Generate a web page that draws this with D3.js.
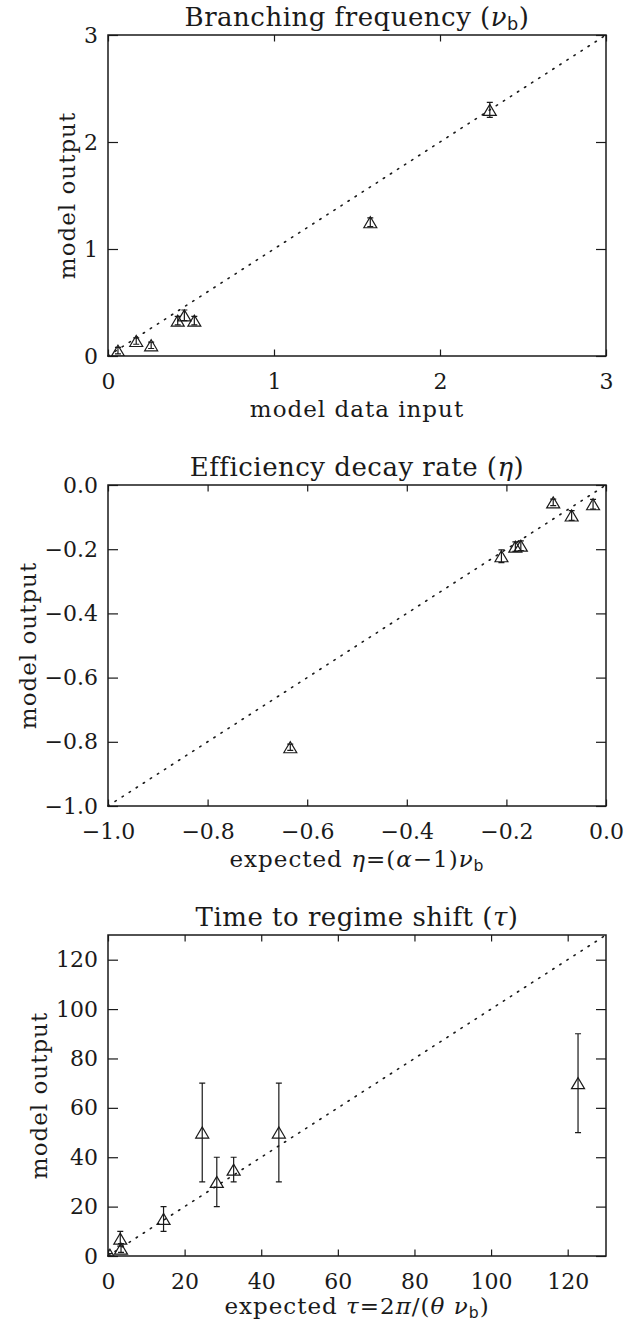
<!doctype html>
<meta charset=utf8>
<title>Model output vs expected</title>
<style>
  html, body {
    margin: 0;
    background: white;
  }

  svg {
    display: block;
    font-family: "DejaVu Serif", serif;
    color: #1a1a1a;
  }

  .tick text {
    font-size: 22px;
    fill: #1a1a1a;
  }

  .tick line {
    stroke: #1a1a1a;
    stroke-width: 1.2;
  }

  .frame {
    fill: none;
    stroke: #1a1a1a;
    stroke-width: 1.5;
  }

  .diag {
    fill: none;
    stroke: #1a1a1a;
    stroke-width: 1.6;
    stroke-dasharray: 1.4 7;
    stroke-linecap: round;
  }

  .mark, .err {
    fill: none;
    stroke: #1a1a1a;
    stroke-width: 1.2;
  }

  .title {
    font-size: 26px;
    letter-spacing: 0.5px;
    fill: #1a1a1a;
  }

  .label {
    font-size: 23px;
    letter-spacing: 1px;
    fill: #1a1a1a;
  }
</style>
<svg width=632 height=1322></svg>
<script src=https://d3js.org/d3.v7.min.js></script>
<script>
  // panel 1: branching frequency
  var branchX = [0.06, 0.17, 0.26, 0.42, 0.46, 0.52, 1.58, 2.30];
  var branchY = [0.05, 0.14, 0.10, 0.33, 0.38, 0.33, 1.25, 2.30];
  var branchErr = [0.03, 0.03, 0.03, 0.04, 0.05, 0.04, 0.04, 0.07];
  var branchTicks = [0, 1, 2, 3];

  // panel 2: efficiency decay rate
  var decayX = [-0.634, -0.21, -0.182, -0.171, -0.106, -0.069, -0.026];
  var decayY = [-0.817, -0.222, -0.192, -0.189, -0.054, -0.095, -0.060];
  var decayErr = [0.01, 0.02, 0.015, 0.015, 0.01, 0.015, 0.015];
  var decayTicks = [-1.0, -0.8, -0.6, -0.4, -0.2, 0.0];

  // panel 3: time to regime shift
  var shiftX = [0.5, 3.2, 3.4, 14.5, 24.6, 28.4, 32.8, 44.6, 122.7];
  var shiftY = [0.5, 7, 3, 15, 50, 30, 35, 50, 70];
  var shiftLo = [0, 4, 1.5, 10, 30, 20, 30, 30, 50];
  var shiftHi = [1, 10, 5, 20, 70, 40, 40, 70, 90];
  var shiftTicks = [0, 20, 40, 60, 80, 100, 120];

  var titles = ['Branching frequency ({ν}_b)', 'Efficiency decay rate ({η})', 'Time to regime shift ({τ})'];
  var xLabels = ['model data input', 'expected {η}=({α}−1){ν}_b', 'expected {τ}=2{π}/({θ} {ν}_b)'];
  var yLabel = 'model output';

  var panels = [
    {
      domain: [0, 3], ticks: branchTicks, fmt: d3.format('d'),
      pts: branchX.map(function (v, i) {
        return {x: v, y: branchY[i], lo: branchY[i] - branchErr[i], hi: branchY[i] + branchErr[i]};
      })
    },
    {
      domain: [-1, 0], ticks: decayTicks, fmt: d3.format('.1f'),
      pts: decayX.map(function (v, i) {
        return {x: v, y: decayY[i], lo: decayY[i] - decayErr[i], hi: decayY[i] + decayErr[i]};
      })
    },
    {
      domain: [0, 130], ticks: shiftTicks, fmt: d3.format('d'),
      pts: shiftX.map(function (v, i) {
        return {x: v, y: shiftY[i], lo: shiftLo[i], hi: shiftHi[i]};
      })
    }
  ];

  var svg = d3.select('svg');
  var left = 108, right = 606, plotH = 321, step = 450, firstTop = 35;

  // writes "{x}" as italic and "_b" as a sans subscript
  function richText(sel, str) {
    var afterSub = false;
    str.split(/(\{[^}]+\}|_\w)/).forEach(function (part) {
      if (!part) return;
      var t = sel.append('tspan');
      if (afterSub) t.attr('dy', -4);
      afterSub = false;
      if (part[0] === '{') {
        t.text(part.slice(1, -1)).style('font-style', 'italic');
      } else if (part[0] === '_') {
        t.text(part.slice(1)).attr('dy', 4)
          .style('font-family', '"DejaVu Sans", sans-serif')
          .style('font-size', '0.68em');
        afterSub = true;
      } else {
        t.text(part);
      }
    });
  }

  panels.forEach(function (p, k) {
    var top = firstTop + k * step;
    var bottom = top + plotH;
    var x = d3.scaleLinear().domain(p.domain).range([left, right]);
    var y = d3.scaleLinear().domain(p.domain).range([bottom, top]);
    var g = svg.append('g');

    g.append('clipPath').attr('id', 'clip' + k)
      .append('rect')
      .attr('x', left).attr('y', top)
      .attr('width', right - left).attr('height', plotH);

    g.append('g').attr('transform', 'translate(0,' + bottom + ')')
      .call(d3.axisBottom(x).tickValues(p.ticks).tickFormat(p.fmt).tickSize(-6.5).tickPadding(17))
      .call(function (a) { a.select('.domain').remove(); a.attr('font-family', null).attr('font-size', null); });
    g.append('g').attr('transform', 'translate(0,' + top + ')')
      .call(d3.axisTop(x).tickValues(p.ticks).tickFormat('').tickSize(-6.5))
      .call(function (a) { a.select('.domain').remove(); });
    var yAxis = g.append('g').attr('transform', 'translate(' + left + ',0)')
      .call(d3.axisLeft(y).tickValues(p.ticks).tickFormat(p.fmt).tickSize(-10).tickPadding(10))
      .call(function (a) { a.select('.domain').remove(); a.attr('font-family', null).attr('font-size', null); });
    g.append('g').attr('transform', 'translate(' + right + ',0)')
      .call(d3.axisRight(y).tickValues(p.ticks).tickFormat('').tickSize(-10))
      .call(function (a) { a.select('.domain').remove(); });

    g.append('rect').attr('class', 'frame')
      .attr('x', left).attr('y', top)
      .attr('width', right - left).attr('height', plotH);

    g.append('path').attr('class', 'diag')
      .attr('d', d3.line().x(function (d) { return x(d); }).y(function (d) { return y(d); })(p.domain));

    var pts = g.append('g').attr('clip-path', 'url(#clip' + k + ')')
      .selectAll('g').data(p.pts).enter().append('g');

    pts.append('path').attr('class', 'err')
      .attr('d', function (d) {
        var cx = x(d.x), y0 = y(d.lo), y1 = y(d.hi);
        return 'M' + cx + ',' + y0 + 'V' + y1 +
          'M' + (cx - 3) + ',' + y0 + 'H' + (cx + 3) +
          'M' + (cx - 3) + ',' + y1 + 'H' + (cx + 3);
      });

    pts.append('path').attr('class', 'mark')
      .attr('d', function (d) {
        var cx = x(d.x), cy = y(d.y);
        return 'M' + (cx - 6.5) + ',' + (cy + 5.5) + 'L' + cx + ',' + (cy - 5.5) +
          'L' + (cx + 6.5) + ',' + (cy + 5.5) + 'Z';
      });

    var midX = (left + right) / 2;
    richText(g.append('text').attr('class', 'title')
      .attr('x', midX).attr('y', top - 9).attr('text-anchor', 'middle'), titles[k]);
    richText(g.append('text').attr('class', 'label')
      .attr('x', midX).attr('y', bottom + (k === 2 ? 58 : 61)).attr('text-anchor', 'middle'), xLabels[k]);

    // y title sits just left of the widest tick label, as IDL does
    var labelLeft = d3.min(yAxis.selectAll('text').nodes(), function (n) {
      var b = n.getBBox();
      return left + b.x;
    });
    g.append('text').attr('class', 'label')
      .attr('transform', 'translate(' + (labelLeft - 9) + ',' + (top + plotH / 2) + ') rotate(-90)')
      .attr('text-anchor', 'middle')
      .text(yLabel);
  });
</script>
